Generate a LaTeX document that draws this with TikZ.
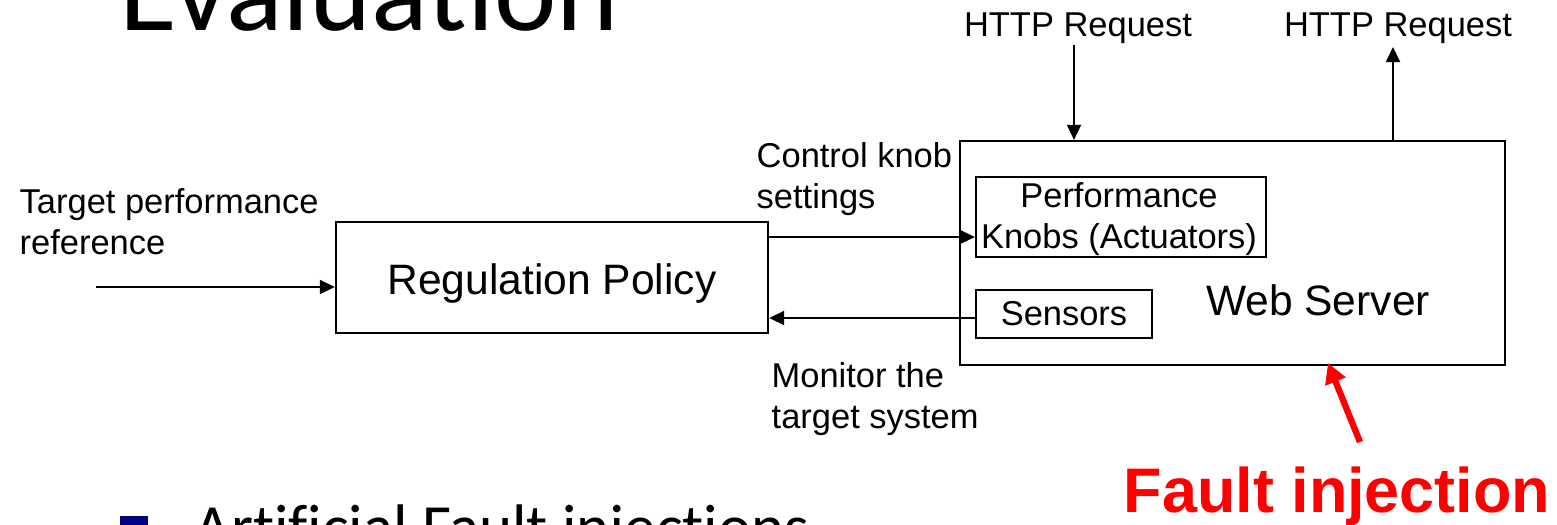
\documentclass[tikz,border=0pt]{standalone}
\usepackage{fontspec}
\setmainfont{Liberation Sans}
\newfontfamily\slidefont[Ligatures=NoCommon]{Carlito}
\usetikzlibrary{arrows.meta}
\definecolor{faultred}{RGB}{255,0,0}
\definecolor{bulletnavy}{RGB}{0,0,128}
\begin{document}
\begin{tikzpicture}[x=0.01cm,y=-0.01cm,
  box/.style={draw=black, line width=0.6pt, rectangle, inner sep=0pt},
  lbl/.style={font=\fontsize{9.8}{11.4}\selectfont, inner sep=0pt, align=left},
  big/.style={font=\fontsize{12.1}{14}\selectfont, inner sep=0pt},
  conn/.style={line width=0.5pt, -{Triangle[length=0.15cm,width=0.14cm]}},
  redarrow/.style={draw=faultred, line width=1.8pt, -{Triangle[length=0.2cm,width=0.21cm]}},
]
\useasboundingbox (0,0) rectangle (1557,524);
\clip (0,0) rectangle (1557,524);
\fill[white] (0,0) rectangle (1557,524);

% slide text (cut off at the edges, as in the reference)
\node[font=\slidefont\fontsize{33.6}{40}\selectfont, anchor=base west, inner sep=0pt] (title) at (119,30) {Evaluation};
\node[fill=bulletnavy, minimum size=0.28cm, inner sep=0pt, anchor=north west] (bul) at (119,515) {};
\node[font=\slidefont\fontsize{17.9}{21}\selectfont, anchor=base west, inner sep=0pt] (body) at (194,548) {Artificial Fault injections};

% boxes
\node[box, minimum width=4.32cm, minimum height=1.11cm] (reg) at (552,277.5) {};
\node[big, anchor=base] (regt) at (552,294) {Regulation Policy};
\node[box, minimum width=5.45cm, minimum height=2.24cm] (web) at (1232.5,253) {};
\node[big, anchor=base] (webt) at (1318,315) {Web Server};
\node[box, minimum width=2.90cm, minimum height=0.80cm] (perf) at (1121,217) {};
\node[lbl, align=center, anchor=base] (perft) at (1119,248) {Performance\\Knobs (Actuators)};
\node[box, minimum width=1.76cm, minimum height=0.48cm] (sens) at (1064,314) {};
\node[lbl, anchor=base] (senst) at (1064,325) {Sensors};

% labels
\node[lbl, anchor=base west] (tpr) at (19,254) {Target performance\\reference};
\node[lbl, anchor=base west] (cks) at (756,208) {Control knob\\settings};
\node[lbl, anchor=base west] (mts) at (771,428) {Monitor the\\target system};
\node[lbl, anchor=base] (h1) at (1078,36) {HTTP Request};
\node[lbl, anchor=base] (h2) at (1398,36) {HTTP Request};

% connectors
\coordinate (refin) at (96,287);
\draw[conn] (refin) -- (reg.west |- refin);
\path ([yshift=-0.2cm]perf.west) coordinate (kin);
\draw[conn] (reg.east |- kin) -- (kin);
\path ([yshift=-0.04cm]sens.west) coordinate (sout);
\draw[conn] (sout) -- (reg.east |- sout);
\coordinate (h1s) at (1074,45);
\draw[conn] (h1s) -- (h1s |- web.north);
\coordinate (h2e) at (1393,47);
\draw[conn] (h2e |- web.north) -- (h2e);

% fault injection
\node[font=\bfseries\fontsize{17.9}{21}\selectfont, text=faultred, anchor=base west, inner sep=0pt] (fault) at (1123,512) {Fault injection};
\coordinate (ftail) at (1360,442);
\coordinate (ftip) at (1328,363);
\draw[redarrow] (ftail) -- (ftip);
\end{tikzpicture}
\end{document}
